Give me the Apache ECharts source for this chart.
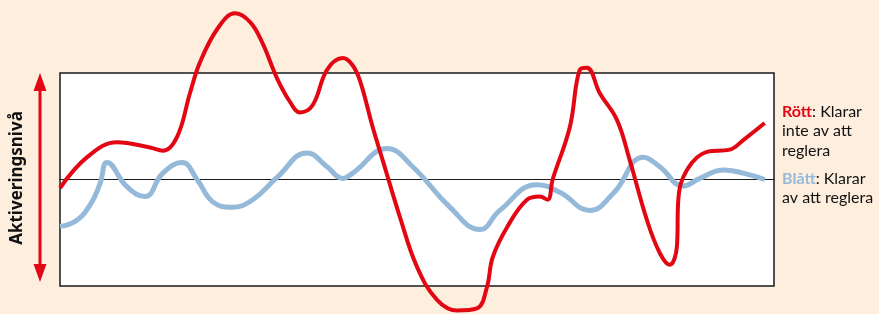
<!DOCTYPE html>
<html>
<head>
<meta charset="utf-8">
<script src="https://cdn.jsdelivr.net/npm/echarts@6/dist/echarts.min.js"></script>
<style>
  html, body { margin: 0; padding: 0; background: #fdeede; }
  #main { width: 879px; height: 314px; }
</style>
</head>
<body>
<div id="main"></div>
<script>
// tid (0-100) och aktiveringsnivå (-100..100, 0 = mittlinjen)
const rottTid = [0, 3.8, 8, 12.6, 14.4, 16.4, 18.2, 19.6, 22.1, 24.5, 26.6, 28.3, 30.4, 32.2, 33.6, 35.4, 37.4, 39.6, 40.9, 42, 43.8, 45.2, 47.6, 50, 52.8, 55.6, 58.4, 59.8, 60.6, 62.6, 65.4, 67.2, 68.3, 69, 71.4, 72.8, 73.8, 75.6, 78, 79.8, 82.2, 84, 85.4, 86.4, 86.6, 87.8, 90.6, 93.8, 95.7, 98.7];
const rottNiva = [-8, 21, 35, 30, 27, 40, 81, 110, 142, 156, 148, 129, 95, 73, 63, 70, 103, 114, 108, 93, 49, 18, -35, -82, -113, -123, -121, -101, -73, -45, -19, -16, -19, 0, 49, 103, 105, 81, 56, 18, -38, -69, -80, -63, -19, 9, 26, 28, 37, 53];

const blattTid = [0, 2.2, 4.2, 5.6, 6.6, 9.4, 11.9, 14.4, 17.1, 19.2, 21.4, 24.1, 27, 30.4, 34.6, 37.4, 39.6, 41, 45.8, 49.4, 54.6, 58.8, 61.6, 66.8, 70, 74.2, 77.5, 81.7, 84, 87.3, 89.6, 92.9, 95.7, 98.7];
const blattNiva = [-44, -39, -24, -4, 16, -7, -16, 6, 16, 0, -21, -26, -19, 2, 25, 12, 1, 6, 29, 12, -26, -47, -29, -5, -12, -29, -13, 21, 12, -6, 1, 9, 6, 0];

const ROD = '#e30613';
const BLA = '#94b9d9';

function par(xs, ys) {
  return xs.map((x, i) => [x, ys[i]]);
}

let chart = echarts.init(document.getElementById('main'));

let option = {
  backgroundColor: '#fdeede',
  animation: false,
  grid: {
    left: 60, right: 105, top: 73, bottom: 28,
    show: true,
    backgroundColor: '#ffffff',
    borderColor: '#1a1a1a',
    borderWidth: 1.5
  },
  xAxis: {
    type: 'value', min: 0, max: 100,
    axisLine: { show: true, onZero: true, lineStyle: { color: '#1a1a1a', width: 1.2 } },
    axisTick: { show: false }, axisLabel: { show: false }, splitLine: { show: false }
  },
  yAxis: {
    type: 'value', min: -100, max: 100,
    axisLine: { show: false }, axisTick: { show: false },
    axisLabel: { show: false }, splitLine: { show: false }
  },
  series: [
    {
      name: 'Blått', type: 'line', data: par(blattTid, blattNiva),
      smooth: 0.45, showSymbol: false, clip: false, z: 3,
      lineStyle: { color: BLA, width: 5 }
    },
    {
      name: 'Rött', type: 'line', data: par(rottTid, rottNiva),
      smooth: 0.4, showSymbol: false, clip: false, z: 4,
      lineStyle: { color: ROD, width: 4 }
    }
  ],
  graphic: [
    // pil till vänster
    { type: 'line', shape: { x1: 40, y1: 88, x2: 40, y2: 268 }, style: { stroke: ROD, lineWidth: 3 } },
    { type: 'polygon', shape: { points: [[40, 73], [33.5, 91], [46.5, 91]] }, style: { fill: ROD } },
    { type: 'polygon', shape: { points: [[40, 282], [33.5, 264], [46.5, 264]] }, style: { fill: ROD } },
    {
      type: 'text', x: 17, y: 178, rotation: Math.PI / 2,
      style: {
        text: 'Aktiveringsnivå', fill: '#111', font: 'bold 17px "Noto Sans"',
        align: 'center', verticalAlign: 'middle'
      }
    },
    {
      type: 'text', x: 782, y: 102,
      style: {
        text: '{r|Rött}: Klarar\ninte av att\nreglera',
        fill: '#111', font: '16px Lato', lineHeight: 19.5,
        rich: { r: { fill: ROD, font: 'bold 16px Lato' } }
      }
    },
    {
      type: 'text', x: 782, y: 169,
      style: {
        text: '{b|Blått}: Klarar\nav att reglera',
        fill: '#111', font: '16px Lato', lineHeight: 19.5,
        rich: { b: { fill: BLA, font: 'bold 16px Lato' } }
      }
    }
  ]
};

chart.setOption(option);
</script>
</body>
</html>
